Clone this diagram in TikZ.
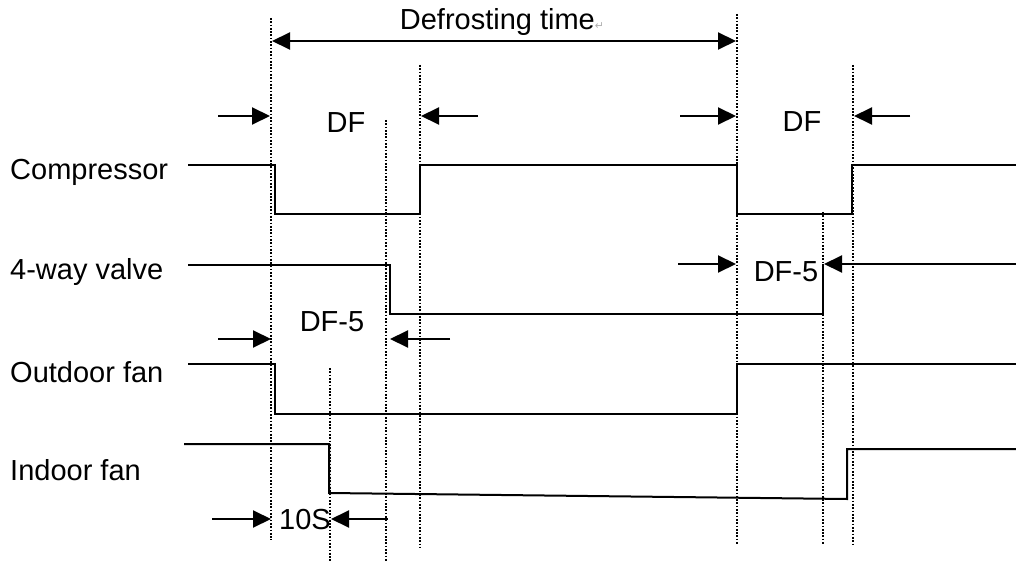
\documentclass[tikz,border=0pt]{standalone}
\usepackage{fontspec}
\setmainfont{Liberation Sans}
\newfontfamily\symfont{DejaVu Sans}
\usetikzlibrary{arrows.meta}
\begin{document}
\begin{tikzpicture}[x=1pt,y=-1pt,
 sig/.style={line width=2pt, line join=miter},
 vdot/.style={line width=1.9pt, dash pattern=on 1.7pt off 1.6pt},
 dimarrow/.style={line width=2pt, -{Triangle[length=18pt,width=17pt]}},
 lbl/.style={font=\fontsize{29}{33}\selectfont, inner sep=0pt, anchor=west},
 txt/.style={font=\fontsize{29}{33}\selectfont, inner sep=0pt}]
\useasboundingbox (0,0) rectangle (1016,561);
\fill[white] (0,0) rectangle (1016,561);

% dotted guide lines
\draw[vdot] (271,18) -- (271,540);
\draw[vdot] (386,120) -- (386,561);
\draw[vdot] (420,65) -- (420,548);
\draw[vdot] (330,368) -- (330,561);
\draw[vdot] (737,14) -- (737,545);
\draw[vdot] (823,212) -- (823,545);
\draw[vdot] (853,65) -- (853,545);

% labels
\node[lbl] (lc) at (10,172) {Compressor};
\node[lbl] (lv) at (10,272) {4-way valve};
\node[lbl] (lo) at (10,372) {Outdoor fan};
\node[lbl] (li) at (10,470) {Indoor fan};

% signals
\draw[sig] (188,165) -| (275,214) -| (420,165) -| (737,214) -| (852,165) -- (1016,165);
\draw[sig] (188,265) -| (390,314) -| (823,264);
\draw[sig] (188,364) -| (275,414) -| (737,364) -- (1016,364);
\draw[sig] (184,444) -| (329,493) -- (847,499) -- (847,449) -- (1016,449);

% defrosting time
\coordinate (dtl) at (272,41);
\coordinate (dtr) at (736,41);
\draw[line width=2pt, {Triangle[length=18pt,width=17pt]}-{Triangle[length=18pt,width=17pt]}] (dtl) -- (dtr);
\node[txt] (dt) at (502,22) {Defrosting time\textcolor{gray!60}{\fontsize{11}{12}\selectfont\symfont ↵}};

% DF (left)
\coordinate (a1s) at (218,116); \coordinate (a1e) at (270,116);
\coordinate (a2s) at (478,116); \coordinate (a2e) at (421,116);
\draw[dimarrow] (a1s) -- (a1e);
\draw[dimarrow] (a2s) -- (a2e);
\node[txt] (df1) at (346,123) {DF};

% DF (right)
\coordinate (b1s) at (680,116); \coordinate (b1e) at (736,116);
\coordinate (b2s) at (910,116); \coordinate (b2e) at (854,116);
\draw[dimarrow] (b1s) -- (b1e);
\draw[dimarrow] (b2s) -- (b2e);
\node[txt] (df2) at (802,122) {DF};

% DF-5 (left)
\coordinate (c1s) at (218,339); \coordinate (c1e) at (271,339);
\coordinate (c2s) at (450,339); \coordinate (c2e) at (390,339);
\draw[dimarrow] (c1s) -- (c1e);
\draw[dimarrow] (c2s) -- (c2e);
\node[txt] (df5a) at (332,322) {DF-5};

% DF-5 (right)
\coordinate (d1s) at (678,264); \coordinate (d1e) at (736,264);
\coordinate (d2s) at (1016,264); \coordinate (d2e) at (824,264);
\draw[dimarrow] (d1s) -- (d1e);
\draw[dimarrow] (d2s) -- (d2e);
\node[txt] (df5b) at (786,272) {DF-5};

% 10S
\coordinate (e1s) at (212,519); \coordinate (e1e) at (271,519);
\coordinate (e2s) at (388,519); \coordinate (e2e) at (331,519);
\draw[dimarrow] (e1s) -- (e1e);
\draw[dimarrow] (e2s) -- (e2e);
\node[txt] (ten) at (305,520) {10S};
\end{tikzpicture}
\end{document}
